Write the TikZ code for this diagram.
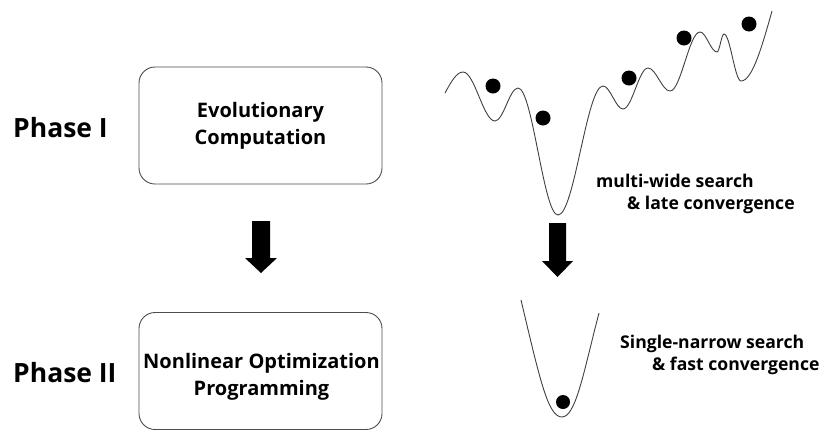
\documentclass[tikz,border=0pt]{standalone}
\usepackage{fontspec}
\setmainfont{Open Sans}
\usetikzlibrary{calc}
\tikzset{
  phasebox/.style={draw=black!70, line width=0.9pt, rounded corners=16pt, minimum width=243pt, minimum height=117pt, inner sep=0pt},
  boxtext/.style={align=center, font=\fontsize{20}{27}\selectfont\bfseries, inner sep=0pt},
  phaselabel/.style={anchor=west, font=\fontsize{26.5}{30}\selectfont\bfseries, inner sep=0pt},
  note/.style={anchor=west, align=left, font=\fontsize{17.6}{22}\selectfont\bfseries, inner sep=0pt},
  landscape/.style={draw=black!75, line width=0.9pt},
  ball/.style={fill=black},
  bigarrow/.style={fill=black}
}
\begin{document}
\begin{tikzpicture}[x=1pt,y=-1pt]
\useasboundingbox (0,0) rectangle (837,429);
% boxes
\node[phasebox] (ec) at (260.5,125.5) {};
\node[phasebox] (nlp) at (260.5,371) {};
\node[boxtext] (ect) at (260.5,126) {Evolutionary\\Computation};
\node[boxtext] (nlpt) at (261.5,377) {Nonlinear Optimization\\Programming};
\node[phaselabel] (p1) at (13,128) {Phase I};
\node[phaselabel] (p2) at (13,373) {Phase II};
% left arrow
\coordinate (la) at (261,221);
\fill[bigarrow] ($(la)+(-9,0)$) -- ($(la)+(9,0)$) -- ($(la)+(9,37)$) -- ($(la)+(16,37)$) -- ($(la)+(0,52)$) -- ($(la)+(-16,37)$) -- ($(la)+(-9,37)$) -- cycle;
% right arrow
\coordinate (ra) at (557.5,223);
\fill[bigarrow] ($(ra)+(-8.5,0)$) -- ($(ra)+(8.5,0)$) -- ($(ra)+(8.5,38)$) -- ($(ra)+(15.5,38)$) -- ($(ra)+(0,54)$) -- ($(ra)+(-15.5,38)$) -- ($(ra)+(-8.5,38)$) -- cycle;
% landscape
\coordinate (S) at (445,93);
\coordinate (P1) at (463,72);
\coordinate (T1) at (495,121);
\coordinate (P2) at (518,88);
\coordinate (T2) at (558,215);
\coordinate (P3) at (603,86);
\coordinate (T3) at (623,109);
\coordinate (P4) at (648,68);
\coordinate (T4) at (670,91);
\coordinate (P5) at (700,32);
\coordinate (T5) at (717,52);
\coordinate (P6) at (724,34);
\coordinate (T6) at (741,81);
\coordinate (E) at (772,11);
\draw[landscape] (S) sin (P1)
  cos ($(P1)!.5!(T1)$) sin (T1)
  cos ($(T1)!.5!(P2)$) sin (P2)
  cos ($(P2)!.5!(T2)$) sin (T2)
  cos ($(T2)!.5!(P3)$) sin (P3)
  cos ($(P3)!.5!(T3)$) sin (T3)
  cos ($(T3)!.5!(P4)$) sin (P4)
  cos ($(P4)!.5!(T4)$) sin (T4)
  cos ($(T4)!.5!(P5)$) sin (P5)
  cos ($(P5)!.5!(T5)$) sin (T5)
  cos ($(T5)!.5!(P6)$) sin (P6)
  cos ($(P6)!.5!(T6)$) sin (T6)
  cos (E);
\fill[ball] (493,86) circle (7.5);
\fill[ball] (543,118) circle (7.5);
\fill[ball] (629,78) circle (7.5);
\fill[ball] (684,38) circle (7.5);
\fill[ball] (749,24) circle (7.5);
\node[note] (n1) at (596,194) {multi-wide search\\\hspace*{31pt}\& late convergence};
% parabola
\coordinate (QL) at (521,300);
\coordinate (QB) at (562,417);
\coordinate (QR) at (599,313);
\draw[landscape] (QL) .. controls (540,380) and (548,417) .. (QB) .. controls (576,417) and (584,370) .. (QR);
\fill[ball] (563,402) circle (7);
\node[note] (n2) at (620,355) {Single-narrow search\\\hspace*{32pt}\& fast convergence};
\end{tikzpicture}
\end{document}
